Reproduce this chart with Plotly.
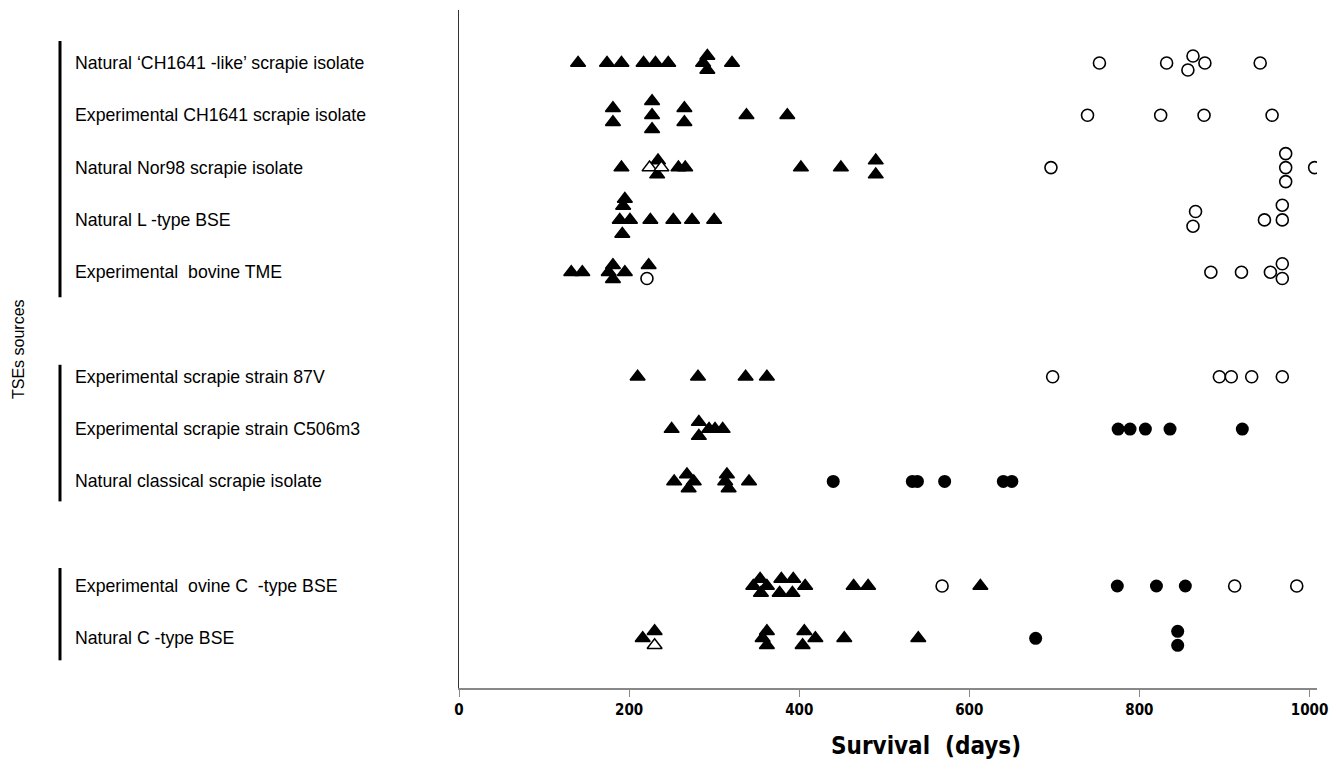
import plotly.graph_objects as go

# ---------------- data ----------------
sources = [
    "Natural \u2018CH1641 -like\u2019 scrapie isolate",
    "Experimental CH1641 scrapie isolate",
    "Natural Nor98 scrapie isolate",
    "Natural L -type BSE",
    "Experimental\u00a0 bovine TME",
    "Experimental scrapie strain 87V",
    "Experimental scrapie strain C506m3",
    "Natural classical scrapie isolate",
    "Experimental\u00a0 ovine C\u00a0 -type BSE",
    "Natural C -type BSE",
]
# row slot of each source on the vertical axis (gaps separate the groups)
source_slot = [0, 1, 2, 3, 4, 6, 7, 8, 10, 11]
groups = [(0, 4), (6, 8), (10, 11)]

# filled triangles: source index, survival (days), stacking level
tri_src = [0]*10 + [1]*9 + [2]*9 + [3]*9 + [4]*7 + [5]*4 + [6]*6 + [7]*8 + [8]*12 + [9]*10
tri_days = [140, 174, 191, 217, 231, 246, 292, 287, 292, 321,
            181, 181, 227, 227, 227, 265, 265, 338, 386,
            191, 234, 233, 258, 266, 402, 449, 490, 490,
            195, 193, 189, 201, 192, 225, 252, 274, 300,
            132, 145, 176, 181, 181, 195, 223,
            210, 281, 337, 362,
            250, 282, 282, 294, 301, 310,
            253, 268, 276, 270, 315, 313, 317, 341,
            346, 354, 362, 379, 393, 407, 355, 377, 392, 464, 481, 613,
            216, 230, 362, 357, 362, 406, 419, 404, 453, 540]
tri_lvl = [0, 0, 0, 0, 0, 0, -1, 0, 1, 0,
           -1, 1, -2, 0, 2, -1, 1, 0, 0,
           0, -1, 1, 0, 0, 0, 0, -1, 1,
           -3, -2, 0, 0, 2, 0, 0, 0, 0,
           0, 0, 0, -1, 1, 0, -1,
           0, 0, 0, 0,
           0, -1, 1, 0, 0, 0,
           0, -1, 0, 1, -1, 0, 1, 0,
           0, -1, 0, -1, -1, 0, 1, 1, 1, 0, 0, 0,
           0, -1, -1, 0, 1, -1, 0, 1, 0, 0]

# open triangles
otri_src = [2, 2, 9]
otri_days = [224, 238, 230]
otri_lvl = [0, 0, 1]

# open circles
ocir_src = [0]*6 + [1]*4 + [2]*5 + [3]*5 + [4]*6 + [5]*5 + [8]*3
ocir_days = [753, 832, 863, 857, 877, 942,
             739, 825, 876, 956,
             696, 972, 972, 972, 1006,
             866, 863, 947, 968, 968,
             221, 884, 920, 954, 968, 968,
             698, 894, 908, 932, 968,
             568, 912, 985]
ocir_lvl = [0, 0, -1, 1, 0, 0,
            0, 0, 0, 0,
            0, -2, 0, 2, 0,
            -1.2, 0.9, 0, -2.1, 0,
            0.9, 0, 0, 0, -1.2, 0.9,
            0, 0, 0, 0, 0,
            0, 0, 0]

# filled circles
fcir_src = [6]*5 + [7]*6 + [8]*3 + [9]*3
fcir_days = [775, 789, 807, 836, 921,
             440, 533, 539, 571, 640, 650,
             774, 820, 854,
             678, 845, 845]
fcir_lvl = [0, 0, 0, 0, 0,
            0, 0, 0, 0, 0, 0,
            0, 0, 0,
            0, -1, 1]

x_ticks = [0, 200, 400, 600, 800, 1000]

# ---------------- layout constants ----------------
W, H = 1339, 775
ML, MR, MT, MB = 459, 22, 10, 87
PW = W - ML - MR
PH = H - MT - MB
Y_TOP, Y_BOT = -1.013, 11.95
PX = (Y_BOT - Y_TOP) / PH             # one pixel in row units
LVL = 7.0 * PX                        # one stacking level = 7 px
GROUP_PAD = [(22, 25), (12, 20), (18, 22)]   # bar overhang in px (top, bottom)


def ypos(src, lvl):
    return [source_slot[s] + l * LVL for s, l in zip(src, lvl)]


def px_to_paper_x(px):
    return (px - ML) / PW


def py_to_paper_y(py):
    return 1 - (py - MT) / PH


fig = go.Figure()

fig.add_trace(go.Scatter(
    x=tri_days, y=ypos(tri_src, tri_lvl), mode="markers",
    marker=dict(symbol="triangle-up", size=13, color="black",
                line=dict(color="black", width=1.5)),
    hoverinfo="x", showlegend=False))

fig.add_trace(go.Scatter(
    x=otri_days, y=ypos(otri_src, otri_lvl), mode="markers",
    marker=dict(symbol="triangle-up", size=13, color="white",
                line=dict(color="black", width=1.5)),
    hoverinfo="x", showlegend=False))

fig.add_trace(go.Scatter(
    x=ocir_days, y=ypos(ocir_src, ocir_lvl), mode="markers",
    marker=dict(symbol="circle-open", size=12, color="black",
                line=dict(color="black", width=1.6)),
    hoverinfo="x", showlegend=False))

fig.add_trace(go.Scatter(
    x=fcir_days, y=ypos(fcir_src, fcir_lvl), mode="markers",
    marker=dict(symbol="circle", size=13, color="black",
                line=dict(color="black", width=0)),
    hoverinfo="x", showlegend=False))

# source labels
for name, slot in zip(sources, source_slot):
    fig.add_annotation(
        x=px_to_paper_x(73), xref="paper", y=slot, yref="y",
        text=name, showarrow=False, xanchor="left", yanchor="middle",
        font=dict(family="Liberation Sans, Arial, sans-serif", size=17.7, color="black"))

# group bars
for (a, b), (pt, pb) in zip(groups, GROUP_PAD):
    fig.add_shape(type="line", xref="paper", yref="y",
                  x0=px_to_paper_x(60), x1=px_to_paper_x(60),
                  y0=a - pt * PX, y1=b + pb * PX,
                  line=dict(color="black", width=3))

fig.add_annotation(
    x=px_to_paper_x(18), xref="paper", y=0.5, yref="paper",
    text="TSEs sources", showarrow=False, textangle=-90,
    xanchor="center", yanchor="middle",
    font=dict(family="Liberation Sans, Arial, sans-serif", size=16, color="black"))

fig.add_annotation(
    x=px_to_paper_x(926), xref="paper", y=py_to_paper_y(746), yref="paper",
    text="Survival\u00a0 (days)", showarrow=False,
    xanchor="center", yanchor="middle",
    font=dict(family="Liberation Sans Narrow, DejaVu Sans Condensed, Arial Narrow, sans-serif",
              size=24, color="black", weight="bold"))

fig.update_layout(
    width=W, height=H,
    margin=dict(l=ML, r=MR, t=MT, b=MB),
    paper_bgcolor="white", plot_bgcolor="white",
    xaxis=dict(
        range=[0, 1008.8], tickvals=x_ticks, ticktext=[str(t) for t in x_ticks],
        showgrid=False, zeroline=False,
        showline=True, linecolor="#888888", linewidth=1.5,
        ticks="outside", ticklen=7, tickcolor="#888888", tickwidth=1,
        tickfont=dict(family="Liberation Sans Narrow, DejaVu Sans Condensed, Arial Narrow, sans-serif",
                      size=15, color="black", weight="bold"),
    ),
    yaxis=dict(
        range=[Y_BOT, Y_TOP], showticklabels=False, ticks="",
        showgrid=False, zeroline=False,
        showline=True, linecolor="#333333", linewidth=1.3,
    ),
)

fig.write_html("out.html")
